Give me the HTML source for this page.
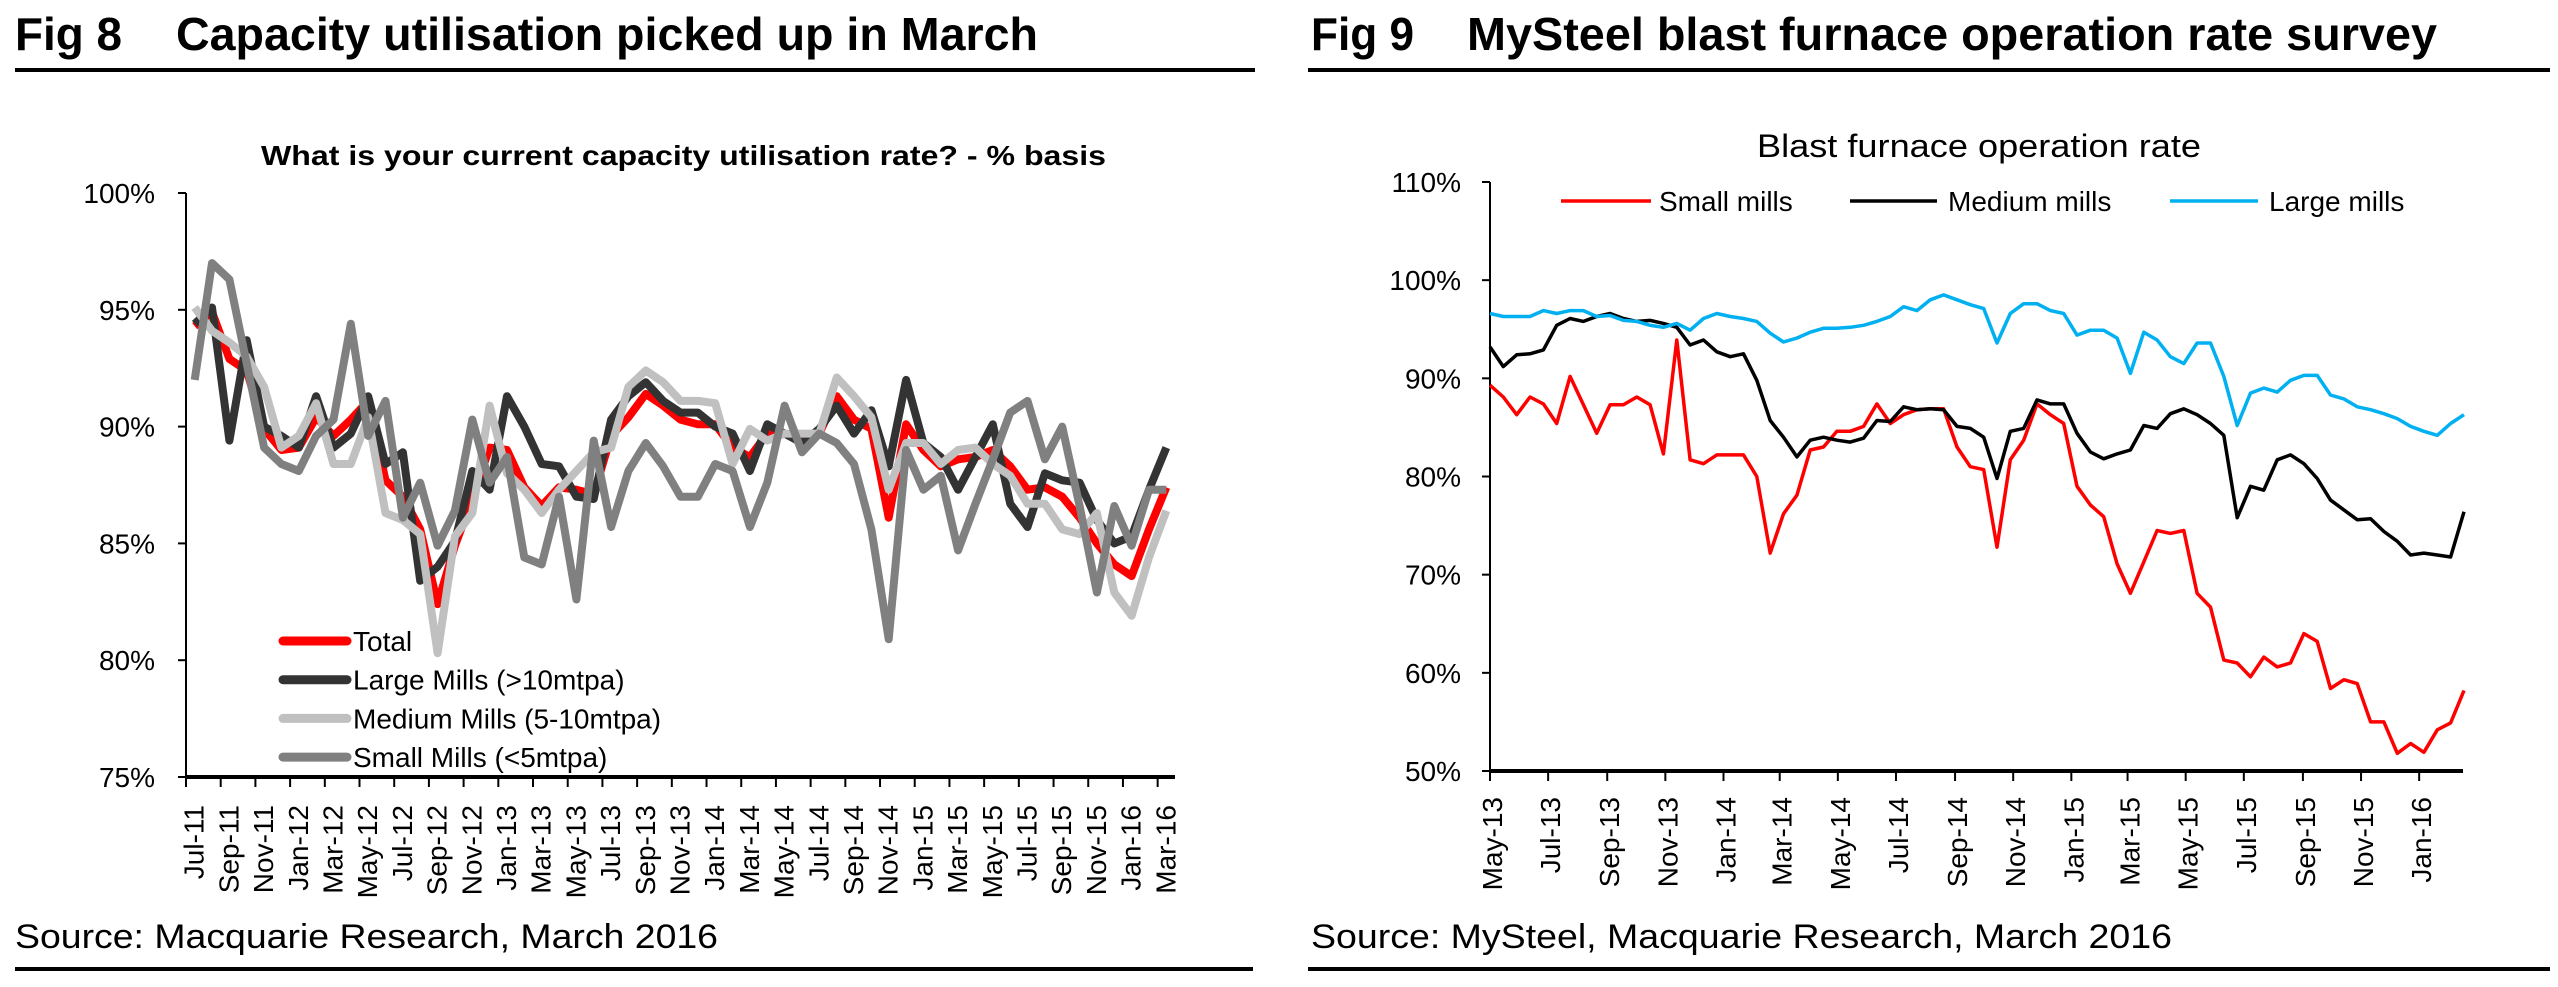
<!DOCTYPE html>
<html><head><meta charset="utf-8"><style>
html,body{margin:0;padding:0;background:#fff;}
svg{display:block;font-family:"Liberation Sans",Arial,sans-serif;}
</style></head><body>
<svg id="root" width="2558" height="987" viewBox="0 0 2558 987" xmlns="http://www.w3.org/2000/svg">
<g>
<text x="15" y="50" font-size="46" font-weight="bold" textLength="107" lengthAdjust="spacingAndGlyphs">Fig 8</text>
<text x="176" y="50" font-size="46" font-weight="bold" textLength="862" lengthAdjust="spacingAndGlyphs">Capacity utilisation picked up in March</text>
<rect x="15" y="68" width="1240" height="4" fill="#000"/>
<text x="261" y="165" font-size="28" font-weight="bold" textLength="845" lengthAdjust="spacingAndGlyphs">What is your current capacity utilisation rate? - % basis</text>
<g id="c1"></g>
<text x="15" y="948" font-size="34" textLength="703" lengthAdjust="spacingAndGlyphs">Source: Macquarie Research, March 2016</text>
<rect x="15" y="967" width="1238" height="4" fill="#000"/>
</g>
<g>
<text x="1311" y="50" font-size="46" font-weight="bold" textLength="103" lengthAdjust="spacingAndGlyphs">Fig 9</text>
<text x="1467" y="50" font-size="46" font-weight="bold" textLength="970" lengthAdjust="spacingAndGlyphs">MySteel blast furnace operation rate survey</text>
<rect x="1308" y="68" width="1242" height="4" fill="#000"/>
<text x="1757" y="157" font-size="32" textLength="444" lengthAdjust="spacingAndGlyphs">Blast furnace operation rate</text>
<g id="c2"></g>
<text x="1311" y="948" font-size="34" textLength="861" lengthAdjust="spacingAndGlyphs">Source: MySteel, Macquarie Research, March 2016</text>
<rect x="1308" y="967" width="1242" height="4" fill="#000"/>
</g>
</svg>
<script>
// ---------- Fig 8 data ----------
const months8 = ["Jul-11","Aug-11","Sep-11","Oct-11","Nov-11","Dec-11","Jan-12","Feb-12","Mar-12","Apr-12","May-12","Jun-12","Jul-12","Aug-12","Sep-12","Oct-12","Nov-12","Dec-12","Jan-13","Feb-13","Mar-13","Apr-13","May-13","Jun-13","Jul-13","Aug-13","Sep-13","Oct-13","Nov-13","Dec-13","Jan-14","Feb-14","Mar-14","Apr-14","May-14","Jun-14","Jul-14","Aug-14","Sep-14","Oct-14","Nov-14","Dec-14","Jan-15","Feb-15","Mar-15","Apr-15","May-15","Jun-15","Jul-15","Aug-15","Sep-15","Oct-15","Nov-15","Dec-15","Jan-16","Feb-16","Mar-16"];
const totalVals = [94.3,94.9,92.9,92.4,89.9,89.0,89.1,90.4,89.6,90.3,91.1,87.7,87.0,85.6,82.4,84.9,86.9,89.1,89.0,87.4,86.6,87.4,87.3,87.1,89.6,90.4,91.4,90.9,90.3,90.1,90.1,89.1,88.7,89.7,89.7,89.4,89.7,91.3,90.3,89.9,86.1,90.1,89.0,88.3,88.6,88.7,89.0,88.3,87.3,87.4,87.0,86.1,85.0,84.1,83.6,85.6,87.4];
const largeVals = [94.4,95.1,89.4,93.7,90.0,89.6,89.1,91.3,89.1,89.7,91.3,88.4,88.9,83.4,84.0,85.1,88.1,87.3,91.3,90.0,88.4,88.3,87.0,86.9,90.3,91.3,91.9,91.1,90.6,90.6,90.0,89.7,88.1,90.1,89.7,89.3,89.9,90.9,89.7,90.7,88.3,92.0,89.3,88.7,87.3,88.7,90.1,86.7,85.7,88.0,87.7,87.6,86.0,85.0,85.3,87.3,89.1];
const mediumVals = [95.1,94.1,93.6,93.0,91.7,89.1,89.6,91.0,88.4,88.4,90.4,86.3,86.0,85.4,80.3,85.3,86.3,90.9,88.0,87.3,86.3,87.3,88.1,88.9,89.1,91.7,92.4,91.9,91.1,91.1,91.0,88.4,89.9,89.4,89.7,89.7,89.7,92.1,91.3,90.4,87.3,89.3,89.3,88.4,89.0,89.1,88.4,87.9,86.7,86.7,85.6,85.4,86.3,82.9,81.9,84.4,86.4];
const smallVals = [92.0,97.0,96.3,92.7,89.1,88.4,88.1,89.6,90.3,94.4,89.6,91.1,86.1,87.6,84.9,86.4,90.3,87.6,88.7,84.4,84.1,87.0,82.6,89.4,85.7,88.1,89.3,88.3,87.0,87.0,88.4,88.1,85.7,87.6,90.9,88.9,89.7,89.3,88.4,85.6,80.9,89.0,87.3,87.9,84.7,86.7,88.6,90.6,91.1,88.6,90.0,86.6,82.9,86.6,84.9,87.3,87.3];
const ticks8 = [75,80,85,90,95,100];
const legend8 = ["Total","Large Mills (>10mtpa)","Medium Mills (5-10mtpa)","Small Mills (<5mtpa)"];

// ---------- Fig 9 data (fortnightly samples from 1 May 2013) ----------
const smallMills = [89.3,88.1,86.3,88.1,87.4,85.4,90.2,87.3,84.4,87.3,87.3,88.1,87.3,82.3,93.9,81.7,81.3,82.2,82.2,82.2,80.0,72.2,76.2,78.1,82.7,83.0,84.6,84.6,85.1,87.4,85.4,86.3,86.8,86.9,86.9,83.0,81.0,80.7,72.8,81.7,83.7,87.4,86.3,85.4,79.0,77.1,75.9,71.1,68.1,71.3,74.5,74.2,74.5,68.1,66.7,61.3,61.0,59.6,61.6,60.6,61.0,64.0,63.2,58.4,59.3,58.9,55.0,55.0,51.8,52.8,51.9,54.2,54.9,58.2];
const mediumMills = [93.2,91.2,92.4,92.5,92.9,95.4,96.1,95.8,96.3,96.6,96.1,95.8,95.9,95.6,95.2,93.4,93.9,92.7,92.2,92.5,89.8,85.7,84.0,82.0,83.7,84.0,83.7,83.5,83.9,85.7,85.6,87.1,86.8,86.9,86.8,85.1,84.9,84.0,79.8,84.6,84.9,87.8,87.4,87.4,84.4,82.5,81.8,82.3,82.7,85.2,84.9,86.4,86.9,86.3,85.4,84.2,75.8,79.0,78.6,81.7,82.2,81.3,79.8,77.6,76.6,75.6,75.7,74.4,73.4,72.0,72.2,72.0,71.8,76.4];
const largeMills = [96.6,96.3,96.3,96.3,96.9,96.6,96.9,96.9,96.3,96.4,95.9,95.8,95.4,95.2,95.6,94.9,96.1,96.6,96.3,96.1,95.8,94.6,93.7,94.1,94.7,95.1,95.1,95.2,95.4,95.8,96.3,97.3,96.9,98.0,98.5,98.0,97.5,97.1,93.6,96.6,97.6,97.6,96.9,96.6,94.4,94.9,94.9,94.1,90.5,94.7,93.9,92.2,91.5,93.6,93.6,90.2,85.2,88.5,89.0,88.6,89.8,90.3,90.3,88.3,87.9,87.1,86.8,86.4,85.9,85.1,84.6,84.2,85.4,86.3];
const ticks9 = [50,60,70,80,90,100,110];
const dateLabels9 = ["May-13","Jul-13","Sep-13","Nov-13","Jan-14","Mar-14","May-14","Jul-14","Sep-14","Nov-14","Jan-15","Mar-15","May-15","Jul-15","Sep-15","Nov-15","Jan-16"];
const legend9 = ["Small mills","Medium mills","Large mills"];

const NS="http://www.w3.org/2000/svg";
function mk(parent,tag,attrs,txt){const e=document.createElementNS(NS,tag);for(const k in attrs)e.setAttribute(k,attrs[k]);if(txt!==undefined)e.textContent=txt;parent.appendChild(e);return e;}

// ---------- Fig 8 ----------
(function(){
const g=document.getElementById('c1');
const X0=186,X1=1175,Y0=193,Y1=777,vmin=75,vmax=100;
const n=months8.length, cw=(X1-X0)/n;
const xs=i=>X0+(i+0.5)*cw;
const ys=v=>Y1-(v-vmin)/(vmax-vmin)*(Y1-Y0);
const ya=mk(g,'line',{x1:X0,y1:Y0,x2:X0,y2:Y1,stroke:'#000','stroke-width':2});


ticks8.forEach(t=>{
 const tk=mk(g,'line',{x1:X0-8,y1:ys(t),x2:X0,y2:ys(t),stroke:'#000','stroke-width':2});
 
 
 const tl=mk(g,'text',{x:155,y:ys(t)+10,'font-size':28,'text-anchor':'end'},t+'%');
 
 
});
const series=[[totalVals,'#ff0000'],[largeVals,'#333333'],[mediumVals,'#c0c0c0'],[smallVals,'#808080']];
const names=['fig8-line-total','fig8-line-large-mills','fig8-line-medium-mills','fig8-line-small-mills'];
series.forEach((s,k)=>{
 const p=mk(g,'polyline',{points:s[0].map((v,i)=>xs(i).toFixed(1)+','+ys(v).toFixed(1)).join(' '),fill:'none',stroke:s[1],'stroke-width':8,'stroke-linejoin':'round'});
 
 
});
const xa=mk(g,'line',{x1:X0,y1:Y1,x2:X1,y2:Y1,stroke:'#000','stroke-width':4});


for(let i=0;i<=n;i+=2){
 const tk=mk(g,'line',{x1:X0+i*cw,y1:Y1,x2:X0+i*cw,y2:Y1+10,stroke:'#000','stroke-width':2});
 
 
}
for(let i=0;i<n;i+=2){
 const x=xs(i)+9;
 const tl=mk(g,'text',{x:x,y:805,'font-size':28,'text-anchor':'end',transform:'rotate(-90 '+x+' 805)'},months8[i]);
 
 
}
legend8.forEach((name,k)=>{
 const y=641+k*38.7;
 const ln=mk(g,'line',{x1:283,y1:y,x2:347,y2:y,stroke:series[k][1],'stroke-width':9,'stroke-linecap':'round'});
 
 
 const tx=mk(g,'text',{x:353,y:y+10,'font-size':28},name);
 
 
});
})();

// ---------- Fig 9 ----------
(function(){
const g=document.getElementById('c2');
const X0=1490,X1=2463,Y0=182,Y1=771,vmin=50,vmax=110,pxPerDay=0.953;
const start=Date.UTC(2013,4,1);
const xd=d=>X0+d*pxPerDay;
const xi=i=>xd(i*14);
const ys=v=>Y1-(v-vmin)/(vmax-vmin)*(Y1-Y0);
const ya=mk(g,'line',{x1:X0,y1:Y0,x2:X0,y2:Y1,stroke:'#000','stroke-width':2});


ticks9.forEach(t=>{
 const tk=mk(g,'line',{x1:X0-8,y1:ys(t),x2:X0,y2:ys(t),stroke:'#000','stroke-width':2});
 
 
 const tl=mk(g,'text',{x:1461,y:ys(t)+10,'font-size':28,'text-anchor':'end'},t+'%');
 
 
});
const series=[[smallMills,'#ff0000'],[mediumMills,'#000000'],[largeMills,'#00b0f0']];
const names=['fig9-line-small-mills','fig9-line-medium-mills','fig9-line-large-mills'];
series.forEach((s,k)=>{
 const p=mk(g,'polyline',{points:s[0].map((v,i)=>xi(i).toFixed(1)+','+ys(v).toFixed(1)).join(' '),fill:'none',stroke:s[1],'stroke-width':3.5,'stroke-linejoin':'round'});
 
 
});
const xa=mk(g,'line',{x1:X0,y1:Y1,x2:X1,y2:Y1,stroke:'#000','stroke-width':4});


dateLabels9.forEach((lab,k)=>{
 const mo=4+2*k;
 const d=(Date.UTC(2013,mo,1)-start)/86400000;
 const x=xd(d);
 const tk=mk(g,'line',{x1:x,y1:Y1,x2:x,y2:Y1+10,stroke:'#000','stroke-width':2});
 
 
 const lx=x+12;
 const tl=mk(g,'text',{x:lx,y:797,'font-size':28,'text-anchor':'end',transform:'rotate(-90 '+lx+' 797)'},lab);
 
 
});
const lx=[[1561,1651,1659],[1850,1937,1948],[2170,2258,2269]];
legend9.forEach((name,k)=>{
 const ln=mk(g,'line',{x1:lx[k][0],y1:201,x2:lx[k][1],y2:201,stroke:series[k][1],'stroke-width':3.5});
 
 
 const tx=mk(g,'text',{x:lx[k][2],y:211,'font-size':28},name);
 
 
});
})();
</script>
</body></html>
